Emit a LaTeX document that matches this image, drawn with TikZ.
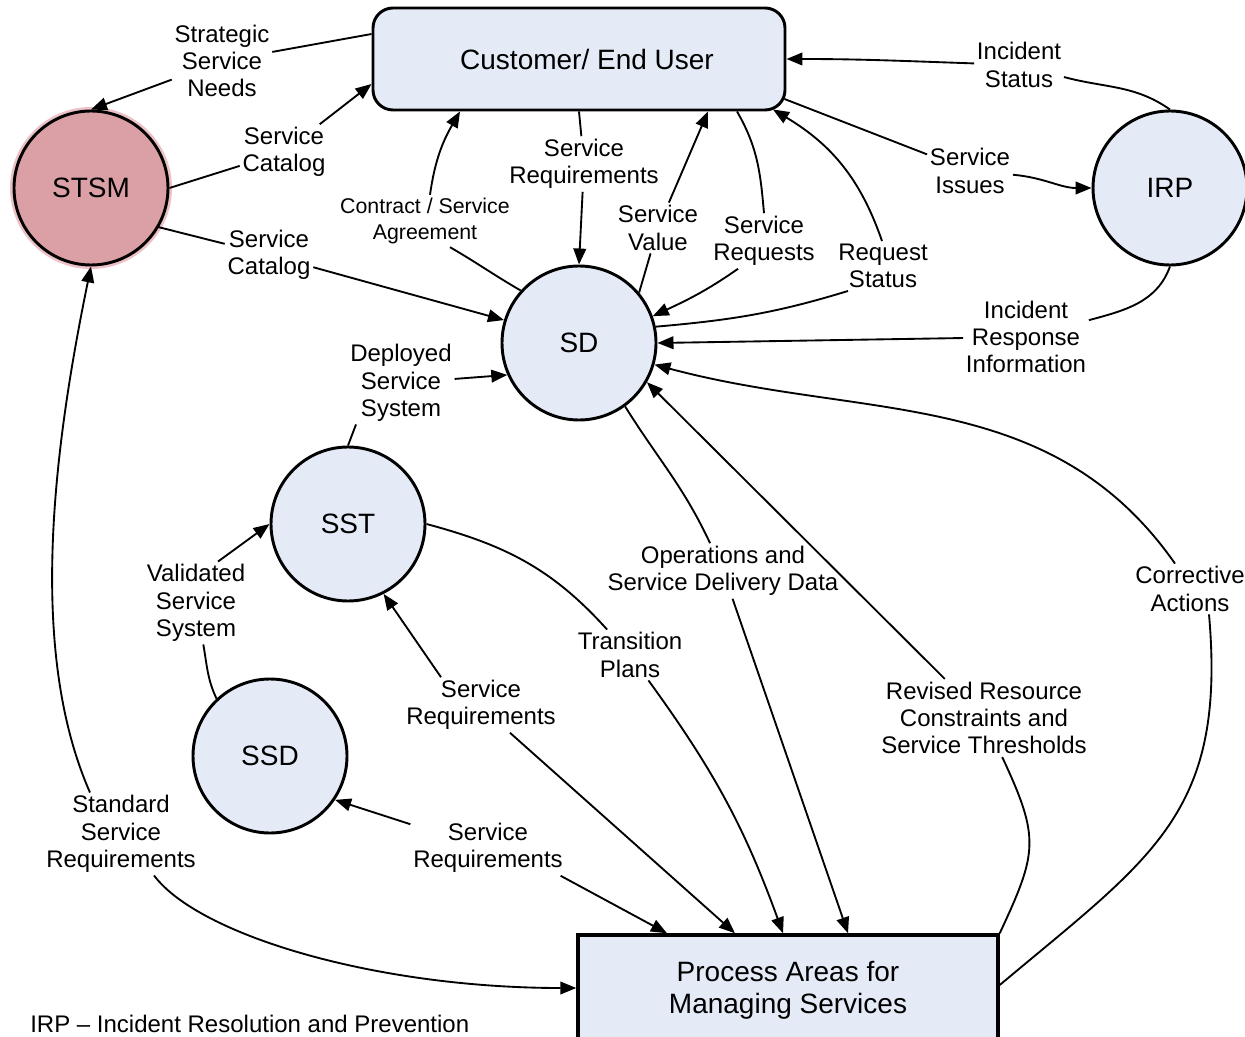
\documentclass[tikz,border=0pt]{standalone}
\usepackage{fontspec}
\setmainfont{Liberation Sans}
\usetikzlibrary{arrows.meta,calc}
\definecolor{nodefill}{HTML}{E4EBF7}
\definecolor{stsmfill}{HTML}{DBA0A5}
\definecolor{stsmhalo}{HTML}{ECC2C6}
\tikzset{
  proc/.style={circle, draw=black, line width=2.2pt, fill=nodefill, minimum size=115.5pt, inner sep=0pt, font=\fontsize{21}{24}\selectfont},
  boxnode/.style={draw=black, fill=nodefill, align=center, font=\fontsize{21}{24}\selectfont},
  lbl/.style={align=center, inner sep=2pt, font=\fontsize{18}{20.5}\selectfont},
  slbl/.style={align=center, inner sep=2pt, font=\fontsize{16}{20}\selectfont},
  footlbl/.style={inner sep=0pt, font=\fontsize{18}{20.5}\selectfont},
  conn/.style={line width=1.4pt, -{Triangle[length=12pt,width=9.5pt]}},
  connstart/.style={line width=1.4pt, {Triangle[length=12pt,width=9.5pt]}-},
}
\begin{document}
\begin{tikzpicture}[x=0.75pt,y=-0.75pt]
\useasboundingbox (0,0) rectangle (1245,1037);
\clip (0,0) rectangle (1245,1037);
\fill[white] (0,0) rectangle (1245,1037);

% nodes
\node[boxnode, rounded corners=15pt, line width=2.2pt, minimum width=309pt, minimum height=76.5pt] (cust) at (579,59) {\hspace*{12pt}Customer/ End User};
\fill[stsmhalo] (91,188) circle[radius=81];
\node[proc, fill=stsmfill] (stsm) at (91,188) {STSM};
\node[proc] (irp) at (1170,188) {IRP};
\node[proc] (sd) at (579,343) {SD};
\node[proc] (sst) at (348,524) {SST};
\node[proc] (ssd) at (270,756) {SSD};
\node[boxnode, line width=2.6pt, minimum width=315pt, minimum height=82.5pt] (pa) at (788,990) {Process Areas for\\Managing Services};

% labels
\node[lbl] (lSSN) at (222,61) {Strategic\\Service\\Needs};
\node[lbl] (lSC1) at (284,152) {Service\\Catalog};
\node[lbl] (lSC2) at (269,255) {Service\\Catalog};
\node[lbl] (lSR) at (584,164) {Service\\Requirements};
\node[slbl] (lCSA) at (425,221) {Contract / Service\\Agreement};
\node[lbl] (lSV) at (658,228) {Service\\Value};
\node[lbl] (lSRq) at (764,241) {Service\\Requests};
\node[lbl] (lRS) at (883,266) {Request\\Status};
\node[lbl] (lSI) at (970,171) {Service\\Issues};
\node[lbl] (lIS) at (1019,65) {Incident\\Status};
\node[lbl] (lIRI) at (1026,337) {Incident\\Response\\Information};
\node[lbl] (lCA) at (1190,589) {Corrective\\Actions};
\node[lbl] (lRRC) at (984,718) {Revised Resource\\Constraints and\\Service Thresholds};
\node[lbl] (lOSD) at (723,571) {Operations and\\Service Delivery Data};
\node[lbl] (lTP) at (630,655) {Transition\\Plans};
\node[lbl] (lSR2) at (481,705) {Service\\Requirements};
\node[lbl] (lSR3) at (488,848) {Service\\Requirements};
\node[lbl] (lVSS) at (196,603) {Validated\\Service\\System};
\node[lbl] (lDSS) at (401,383) {Deployed\\Service\\System};
\node[lbl] (lSSR) at (121,834) {Standard\\Service\\Requirements};
\node[footlbl, anchor=base west] (foot) at (30,1032) {IRP -- Incident Resolution and Prevention};

% connectors
\draw[conn] ([shift={(0,-25)}]cust.west) -- (lSSN) -- (stsm.north);
\draw[conn] (stsm.east) -- (lSC1) -- ([shift={(0,25)}]cust.west);
\draw[conn] (stsm.-30) -- (lSC2) -- (sd.163);
\draw[conn] (cust.south) -- (lSR) -- (sd.north);
\draw[conn] (sd.138) to[out=150,in=-30] ([shift={(25,0)}]lCSA.south)
  ([shift={(5,0)}]lCSA.north) to[out=82,in=-120] ([shift={(-119,0)}]cust.south);
\draw[conn] (sd.40) -- (lSV) -- ([shift={(129,0)}]cust.south);
\draw[conn] ([shift={(158,0)}]cust.south) to[out=-60,in=95] (lSRq.north)
  ([shift={(-26,0)}]lSRq.south) to[out=-145,in=25] (sd.20);
\draw[conn] (sd.12) to[out=5,in=197] ([shift={(-35,0)}]lRS.south)
  ([shift={(-1,0)}]lRS.north) to[out=109,in=-31] ([shift={(194,-2)}]cust.south);
\draw[conn] ([shift={(-2,40)}]cust.east) -- (lSI) to[out=-5,in=180] (irp.west);
\draw[conn] (irp.north) to[out=145,in=-15] (lIS) to[out=178,in=0] (cust.east);
\draw[conn] (irp.south) to[out=-110,in=15] (lIRI) -- (sd.east);
\draw[conn] ([shift={(0,-5)}]pa.east) to[out=40,in=-85,looseness=1.2] ([shift={(19,0)}]lCA.south)
  ([shift={(-15,0)}]lCA.north) to[out=125,in=-15] (sd.-16);
\draw[conn] (pa.north east) to[out=65,in=-65,looseness=1.3] (lRRC) -- (sd.-30);
\draw[conn] (sd.-54) to[out=-58,in=115] (lOSD) -- ([shift={(60,0)}]pa.north);
\draw[conn] (sst.east) to[out=-15,in=132] (lTP) to[out=-54,in=110] ([shift={(-5,0)}]pa.north);
% service requirements (both ends)
\draw[connstart] (sst.-63) -- ([shift={(-40,0)}]lSR2.north);
\draw[conn] ([shift={(29,0)}]lSR2.south) -- ([shift={(-53,0)}]pa.north);
\draw[connstart] (ssd.-34) -- ([shift={(0,4)}]lSR3.north west);
\draw[conn] ([shift={(-5,0)}]lSR3.south east) -- ([shift={(-121,0)}]pa.north);
\draw[conn] (ssd.133) to[out=115,in=-80] (lVSS)
  ([shift={(22,0)}]lVSS.north) -- (sst.west);
\draw[conn] (sst.north) -- ([shift={(-45,0)}]lDSS.south)
  (lDSS) -- (sd.204);
\draw[connstart] (stsm.south) .. controls +(-38,185) and +(-62,-141) .. ([shift={(-31,0)}]lSSR.north);
\draw[conn] ([shift={(33,0)}]lSSR.south) .. controls +(45,60) and +(-200,0) .. ([shift={(0,-2)}]pa.west);
\end{tikzpicture}
\end{document}
